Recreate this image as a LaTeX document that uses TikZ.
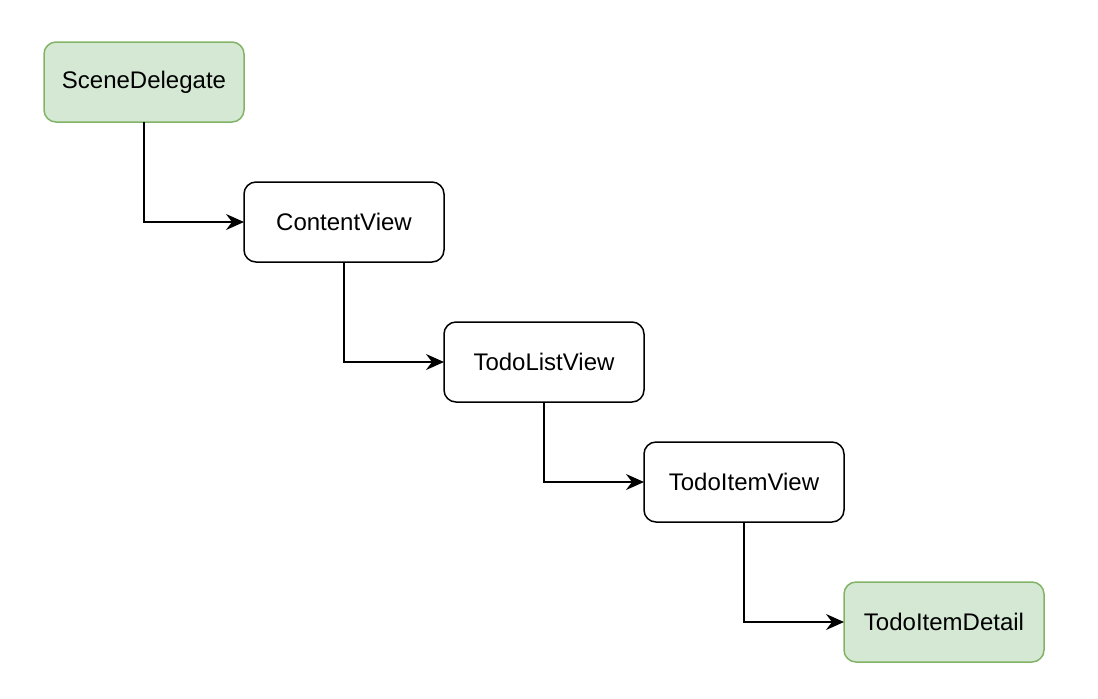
\documentclass[tikz,border=0pt]{standalone}
\usepackage{fontspec}
\setmainfont{Liberation Sans}
\usetikzlibrary{arrows.meta,positioning}
\definecolor{leafgreen}{HTML}{D5E8D4}
\definecolor{leafedge}{HTML}{82B366}
\tikzset{
  viewbox/.style={
    rectangle, rounded corners=6pt, draw=#1, line width=0.75pt,
    minimum width=100pt, minimum height=40pt, outer sep=0pt,
    font=\fontsize{12pt}{14pt}\selectfont, align=center,
    inner sep=3pt
  },
  viewbox/.default=black,
  rootbox/.style={
    viewbox=leafedge, fill=leafgreen
  },
  flowarrow/.style={
    -{Stealth[length=9pt, width=8pt, inset=3pt]}, line width=0.8pt, color=#1
  },
  flowarrow/.default=black,
}
\begin{document}
\begin{tikzpicture}[node distance=30pt and 0pt]
  \useasboundingbox (0,0) rectangle (549pt,-349pt);
  \node[rootbox, anchor=north west] (sd) at (22pt,-21pt) {SceneDelegate};
  \node[viewbox, below right=of sd] (cv) {ContentView};
  \node[viewbox, below right=of cv] (tl) {TodoListView};
  \node[viewbox, below right=20pt and 0pt of tl] (ti) {TodoItemView};
  \node[rootbox, below right=of ti] (td) {TodoItemDetail};
  \draw[flowarrow] (sd.south) |- (cv.west);
  \draw[flowarrow] (cv.south) |- (tl.west);
  \draw[flowarrow] (tl.south) |- (ti.west);
  \draw[flowarrow] (ti.south) |- (td.west);
\end{tikzpicture}
\end{document}
